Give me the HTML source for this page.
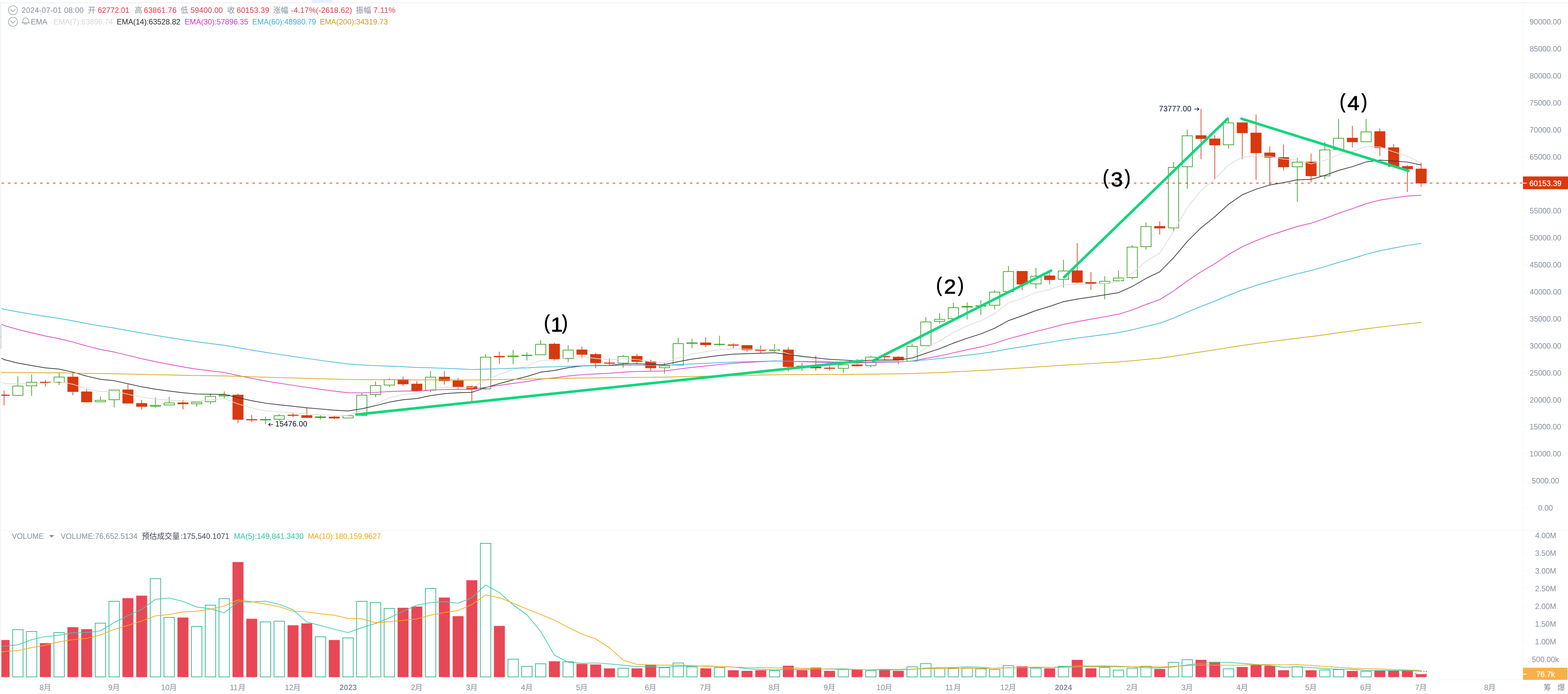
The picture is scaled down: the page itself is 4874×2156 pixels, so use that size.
<!DOCTYPE html>
<html><head><meta charset="utf-8"><title>chart</title>
<style>html,body{margin:0;padding:0;background:#fff;}body{width:4874px;height:2156px;overflow:hidden}svg{display:block}text{font-family:"Liberation Sans","Noto Sans CJK SC",sans-serif;white-space:pre}</style>
</head><body><svg width="4874" height="2156" viewBox="0 0 4874 2156"><rect x="0" y="0" width="4874" height="2156" fill="#fff"/><rect x="969.9" y="0" width="63.4" height="8" fill="#e3f0fb"/><rect x="0" y="7.7" width="4874" height="2" fill="#ececec"/><rect x="0" y="10" width="2.4" height="2102" fill="#f0f1f2"/><rect x="4734.5" y="14" width="1.5" height="2098" fill="#f3f4f5"/><rect x="0" y="1646.5" width="4874" height="1.6" fill="#f3f4f5"/><rect x="0" y="2111.3" width="4874" height="1.6" fill="#f3f4f5"/><path d="M0 1008.8H2.6Q5.6 1008.8 5.6 1011.8V1080.2Q5.6 1083.2 2.6 1083.2H0Z" fill="#dfe2e6"/><path d="M0 1044.3L1.3 1045.8L0 1047.3Z" fill="#555b66"/><rect x="4736" y="1576.8" width="11" height="1.6" fill="#f3f4f5"/><text x="4781" y="1586" font-size="23.6" fill="#8a929f">0.00</text><rect x="4736" y="1492.9" width="11" height="1.6" fill="#f3f4f5"/><text x="4761.3" y="1502.1" font-size="23.6" fill="#8a929f">5000.00</text><rect x="4736" y="1409" width="11" height="1.6" fill="#f3f4f5"/><text x="4754.3" y="1418.2" font-size="23.6" fill="#8a929f">10000.00</text><rect x="4736" y="1325.1" width="11" height="1.6" fill="#f3f4f5"/><text x="4754.3" y="1334.3" font-size="23.6" fill="#8a929f">15000.00</text><rect x="4736" y="1241.3" width="11" height="1.6" fill="#f3f4f5"/><text x="4754.7" y="1250.5" font-size="23.6" fill="#8a929f">20000.00</text><rect x="4736" y="1157.4" width="11" height="1.6" fill="#f3f4f5"/><text x="4754.7" y="1166.6" font-size="23.6" fill="#8a929f">25000.00</text><rect x="4736" y="1073.5" width="11" height="1.6" fill="#f3f4f5"/><text x="4754.8" y="1082.7" font-size="23.6" fill="#8a929f">30000.00</text><rect x="4736" y="989.6" width="11" height="1.6" fill="#f3f4f5"/><text x="4754.8" y="998.8" font-size="23.6" fill="#8a929f">35000.00</text><rect x="4736" y="905.7" width="11" height="1.6" fill="#f3f4f5"/><text x="4755" y="914.9" font-size="23.6" fill="#8a929f">40000.00</text><rect x="4736" y="821.8" width="11" height="1.6" fill="#f3f4f5"/><text x="4755" y="831" font-size="23.6" fill="#8a929f">45000.00</text><rect x="4736" y="738" width="11" height="1.6" fill="#f3f4f5"/><text x="4754.8" y="747.2" font-size="23.6" fill="#8a929f">50000.00</text><rect x="4736" y="654.1" width="11" height="1.6" fill="#f3f4f5"/><text x="4754.8" y="663.3" font-size="23.6" fill="#8a929f">55000.00</text><rect x="4736" y="570.2" width="11" height="1.6" fill="#f3f4f5"/><text x="4754.6" y="579.4" font-size="23.6" fill="#8a929f">60000.00</text><rect x="4736" y="486.3" width="11" height="1.6" fill="#f3f4f5"/><text x="4754.6" y="495.5" font-size="23.6" fill="#8a929f">65000.00</text><rect x="4736" y="402.4" width="11" height="1.6" fill="#f3f4f5"/><text x="4754.6" y="411.6" font-size="23.6" fill="#8a929f">70000.00</text><rect x="4736" y="318.5" width="11" height="1.6" fill="#f3f4f5"/><text x="4754.6" y="327.7" font-size="23.6" fill="#8a929f">75000.00</text><rect x="4736" y="234.7" width="11" height="1.6" fill="#f3f4f5"/><text x="4754.7" y="243.9" font-size="23.6" fill="#8a929f">80000.00</text><rect x="4736" y="150.8" width="11" height="1.6" fill="#f3f4f5"/><text x="4754.7" y="160" font-size="23.6" fill="#8a929f">85000.00</text><rect x="4736" y="66.9" width="11" height="1.6" fill="#f3f4f5"/><text x="4754.7" y="76.1" font-size="23.6" fill="#8a929f">90000.00</text><rect x="4736" y="1662.8" width="11" height="1.6" fill="#f3f4f5"/><text x="4771.9" y="1672" font-size="23.6" fill="#8a929f">4.00M</text><rect x="4736" y="1717.8" width="11" height="1.6" fill="#f3f4f5"/><text x="4771.7" y="1727" font-size="23.6" fill="#8a929f">3.50M</text><rect x="4736" y="1772.8" width="11" height="1.6" fill="#f3f4f5"/><text x="4771.7" y="1782" font-size="23.6" fill="#8a929f">3.00M</text><rect x="4736" y="1827.8" width="11" height="1.6" fill="#f3f4f5"/><text x="4771.6" y="1837" font-size="23.6" fill="#8a929f">2.50M</text><rect x="4736" y="1882.8" width="11" height="1.6" fill="#f3f4f5"/><text x="4771.6" y="1892" font-size="23.6" fill="#8a929f">2.00M</text><rect x="4736" y="1937.8" width="11" height="1.6" fill="#f3f4f5"/><text x="4771.3" y="1947" font-size="23.6" fill="#8a929f">1.50M</text><rect x="4736" y="1992.8" width="11" height="1.6" fill="#f3f4f5"/><text x="4771.3" y="2002" font-size="23.6" fill="#8a929f">1.00M</text><rect x="4736" y="2047.8" width="11" height="1.6" fill="#f3f4f5"/><text x="4761.5" y="2057" font-size="23.6" fill="#8a929f">500.00k</text><defs><clipPath id="cp"><rect x="4.2" y="10" width="4730" height="2102"/></clipPath></defs><g clip-path="url(#cp)"><rect x="11.7" y="1213.2" width="2" height="46.2" fill="#d8390f"/><rect x="-4.3" y="1226.1" width="34" height="3.4" fill="#d8390f"/><rect x="54.5" y="1169.2" width="2" height="29.1" fill="#2f9c17"/><rect x="39.5" y="1199.3" width="32" height="29" fill="none" stroke="#2f9c17" stroke-width="2"/><rect x="97.3" y="1163.2" width="2" height="23.3" fill="#2f9c17"/><rect x="97.3" y="1199.5" width="2" height="30" fill="#2f9c17"/><rect x="82.3" y="1187.5" width="32" height="11" fill="none" stroke="#2f9c17" stroke-width="2"/><rect x="140" y="1180.2" width="2" height="20.5" fill="#d8390f"/><rect x="124" y="1186.2" width="34" height="3.3" fill="#d8390f"/><rect x="182.8" y="1156.4" width="2" height="14" fill="#2f9c17"/><rect x="182.8" y="1189" width="2" height="7" fill="#2f9c17"/><rect x="167.8" y="1171.4" width="32" height="16.6" fill="none" stroke="#2f9c17" stroke-width="2"/><rect x="225.6" y="1155" width="2" height="72.9" fill="#d8390f"/><rect x="209.6" y="1170.4" width="34" height="47" fill="#d8390f"/><rect x="268.3" y="1209.3" width="2" height="40.3" fill="#d8390f"/><rect x="252.3" y="1216.3" width="34" height="33.3" fill="#d8390f"/><rect x="311.1" y="1231.9" width="2" height="10.7" fill="#2f9c17"/><rect x="296.1" y="1243.6" width="32" height="4.7" fill="none" stroke="#2f9c17" stroke-width="2"/><rect x="353.9" y="1242.8" width="2" height="22.9" fill="#2f9c17"/><rect x="338.9" y="1211.7" width="32" height="30.1" fill="none" stroke="#2f9c17" stroke-width="2"/><rect x="396.6" y="1194.1" width="2" height="59.4" fill="#d8390f"/><rect x="380.6" y="1210.2" width="34" height="43.3" fill="#d8390f"/><rect x="439.4" y="1242.4" width="2" height="30.2" fill="#d8390f"/><rect x="423.4" y="1252.4" width="34" height="11.2" fill="#d8390f"/><rect x="482.2" y="1234.9" width="2" height="23.5" fill="#2f9c17"/><rect x="482.2" y="1263.3" width="2" height="3" fill="#2f9c17"/><rect x="467.2" y="1259.4" width="32" height="2.9" fill="none" stroke="#2f9c17" stroke-width="2"/><rect x="524.9" y="1233.3" width="2" height="17.4" fill="#2f9c17"/><rect x="509.9" y="1251.7" width="32" height="6.4" fill="none" stroke="#2f9c17" stroke-width="2"/><rect x="567.7" y="1242.2" width="2" height="29.5" fill="#d8390f"/><rect x="551.7" y="1250.3" width="34" height="5.3" fill="#d8390f"/><rect x="610.4" y="1255.4" width="2" height="8.1" fill="#2f9c17"/><rect x="595.4" y="1249.4" width="32" height="5" fill="none" stroke="#2f9c17" stroke-width="2"/><rect x="653.2" y="1223" width="2" height="7.4" fill="#2f9c17"/><rect x="653.2" y="1249.1" width="2" height="6.3" fill="#2f9c17"/><rect x="638.2" y="1231.4" width="32" height="16.7" fill="none" stroke="#2f9c17" stroke-width="2"/><rect x="696" y="1216" width="2" height="10.3" fill="#2f9c17"/><rect x="696" y="1231.1" width="2" height="8.7" fill="#2f9c17"/><rect x="681" y="1227.3" width="32" height="2.8" fill="none" stroke="#2f9c17" stroke-width="2"/><rect x="738.7" y="1222.8" width="2" height="92" fill="#d8390f"/><rect x="722.7" y="1226.3" width="34" height="77.5" fill="#d8390f"/><rect x="781.5" y="1288.7" width="2" height="22.6" fill="#d8390f"/><rect x="765.5" y="1302.2" width="34" height="3.5" fill="#d8390f"/><rect x="824.3" y="1295.2" width="2" height="7" fill="#2f9c17"/><rect x="824.3" y="1305.7" width="2" height="11.4" fill="#2f9c17"/><rect x="808.3" y="1302.2" width="34" height="3.5" fill="#2f9c17"/><rect x="867" y="1286.4" width="2" height="4.1" fill="#2f9c17"/><rect x="867" y="1303.4" width="2" height="4.8" fill="#2f9c17"/><rect x="852" y="1291.5" width="32" height="10.9" fill="none" stroke="#2f9c17" stroke-width="2"/><rect x="909.8" y="1284" width="2" height="12.8" fill="#d8390f"/><rect x="893.8" y="1288.2" width="34" height="3.5" fill="#d8390f"/><rect x="952.6" y="1267.3" width="2" height="31.9" fill="#d8390f"/><rect x="936.6" y="1289.9" width="34" height="8.1" fill="#d8390f"/><rect x="995.3" y="1289.9" width="2" height="4.1" fill="#2f9c17"/><rect x="995.3" y="1298" width="2" height="5.4" fill="#2f9c17"/><rect x="979.3" y="1294" width="34" height="4" fill="#2f9c17"/><rect x="1038.1" y="1291.7" width="2" height="11" fill="#d8390f"/><rect x="1022.1" y="1294.5" width="34" height="5.4" fill="#d8390f"/><rect x="1080.9" y="1288.7" width="2" height="1.8" fill="#2f9c17"/><rect x="1065.9" y="1291.5" width="32" height="6.9" fill="none" stroke="#2f9c17" stroke-width="2"/><rect x="1123.6" y="1221.4" width="2" height="5.1" fill="#2f9c17"/><rect x="1108.6" y="1227.5" width="32" height="62.9" fill="none" stroke="#2f9c17" stroke-width="2"/><rect x="1166.4" y="1185.1" width="2" height="11.7" fill="#2f9c17"/><rect x="1166.4" y="1227" width="2" height="7" fill="#2f9c17"/><rect x="1151.4" y="1197.8" width="32" height="28.2" fill="none" stroke="#2f9c17" stroke-width="2"/><rect x="1209.2" y="1175.1" width="2" height="3" fill="#2f9c17"/><rect x="1209.2" y="1197.2" width="2" height="5.4" fill="#2f9c17"/><rect x="1194.2" y="1179.1" width="32" height="17.1" fill="none" stroke="#2f9c17" stroke-width="2"/><rect x="1251.9" y="1170" width="2" height="29.1" fill="#d8390f"/><rect x="1235.9" y="1178.1" width="34" height="15.6" fill="#d8390f"/><rect x="1294.7" y="1183.5" width="2" height="33.1" fill="#d8390f"/><rect x="1278.7" y="1192.1" width="34" height="22.1" fill="#d8390f"/><rect x="1337.4" y="1153.2" width="2" height="17.5" fill="#2f9c17"/><rect x="1337.4" y="1213.1" width="2" height="5.1" fill="#2f9c17"/><rect x="1322.4" y="1171.7" width="32" height="40.4" fill="none" stroke="#2f9c17" stroke-width="2"/><rect x="1380.2" y="1153" width="2" height="42.1" fill="#d8390f"/><rect x="1364.2" y="1170.4" width="34" height="13.1" fill="#d8390f"/><rect x="1423" y="1174.2" width="2" height="33.7" fill="#d8390f"/><rect x="1407" y="1182.1" width="34" height="19.8" fill="#d8390f"/><rect x="1465.7" y="1197.2" width="2" height="49.2" fill="#d8390f"/><rect x="1449.7" y="1200.2" width="34" height="9.4" fill="#d8390f"/><rect x="1508.5" y="1100.5" width="2" height="8.2" fill="#2f9c17"/><rect x="1508.5" y="1209.1" width="2" height="1.6" fill="#2f9c17"/><rect x="1493.5" y="1109.7" width="32" height="98.4" fill="none" stroke="#2f9c17" stroke-width="2"/><rect x="1551.3" y="1092.6" width="2" height="37.8" fill="#d8390f"/><rect x="1535.3" y="1105.9" width="34" height="4" fill="#d8390f"/><rect x="1594" y="1087.3" width="2" height="17.4" fill="#2f9c17"/><rect x="1594" y="1109.4" width="2" height="22.1" fill="#2f9c17"/><rect x="1579" y="1105.7" width="32" height="2.7" fill="none" stroke="#2f9c17" stroke-width="2"/><rect x="1636.8" y="1094.3" width="2" height="8.1" fill="#2f9c17"/><rect x="1636.8" y="1105.4" width="2" height="14.5" fill="#2f9c17"/><rect x="1620.8" y="1102.4" width="34" height="3" fill="#2f9c17"/><rect x="1679.6" y="1057" width="2" height="11.6" fill="#2f9c17"/><rect x="1664.6" y="1069.6" width="32" height="32.6" fill="none" stroke="#2f9c17" stroke-width="2"/><rect x="1722.3" y="1065" width="2" height="56.6" fill="#d8390f"/><rect x="1706.3" y="1068" width="34" height="47.8" fill="#d8390f"/><rect x="1765.1" y="1072.7" width="2" height="14" fill="#2f9c17"/><rect x="1765.1" y="1115.1" width="2" height="9.5" fill="#2f9c17"/><rect x="1750.1" y="1087.7" width="32" height="26.4" fill="none" stroke="#2f9c17" stroke-width="2"/><rect x="1807.9" y="1076.7" width="2" height="35.6" fill="#d8390f"/><rect x="1791.9" y="1086" width="34" height="15.8" fill="#d8390f"/><rect x="1850.6" y="1096.5" width="2" height="47.2" fill="#d8390f"/><rect x="1834.6" y="1100.2" width="34" height="27.7" fill="#d8390f"/><rect x="1893.4" y="1112.8" width="2" height="21.2" fill="#d8390f"/><rect x="1877.4" y="1126.3" width="34" height="3.5" fill="#d8390f"/><rect x="1936.1" y="1102.5" width="2" height="4" fill="#2f9c17"/><rect x="1936.1" y="1129.1" width="2" height="13.5" fill="#2f9c17"/><rect x="1921.1" y="1107.5" width="32" height="20.6" fill="none" stroke="#2f9c17" stroke-width="2"/><rect x="1978.9" y="1099" width="2" height="32.6" fill="#d8390f"/><rect x="1962.9" y="1106" width="34" height="17.9" fill="#d8390f"/><rect x="2021.7" y="1117" width="2" height="34.4" fill="#d8390f"/><rect x="2005.7" y="1122.1" width="34" height="21.6" fill="#d8390f"/><rect x="2064.4" y="1127.9" width="2" height="7.7" fill="#2f9c17"/><rect x="2064.4" y="1143.3" width="2" height="17.4" fill="#2f9c17"/><rect x="2049.4" y="1136.6" width="32" height="5.7" fill="none" stroke="#2f9c17" stroke-width="2"/><rect x="2107.2" y="1049.4" width="2" height="17" fill="#2f9c17"/><rect x="2092.2" y="1067.4" width="32" height="66.7" fill="none" stroke="#2f9c17" stroke-width="2"/><rect x="2150" y="1052.2" width="2" height="11.9" fill="#2f9c17"/><rect x="2150" y="1067.6" width="2" height="13.9" fill="#2f9c17"/><rect x="2134" y="1064.1" width="34" height="3.5" fill="#2f9c17"/><rect x="2192.7" y="1048.2" width="2" height="30.3" fill="#d8390f"/><rect x="2176.7" y="1064.1" width="34" height="7.9" fill="#d8390f"/><rect x="2235.5" y="1043.1" width="2" height="25.3" fill="#2f9c17"/><rect x="2235.5" y="1071.4" width="2" height="3.6" fill="#2f9c17"/><rect x="2219.5" y="1068.4" width="34" height="3" fill="#2f9c17"/><rect x="2278.3" y="1066" width="2" height="15.8" fill="#d8390f"/><rect x="2262.3" y="1070.2" width="34" height="3.5" fill="#d8390f"/><rect x="2321" y="1072.3" width="2" height="20" fill="#d8390f"/><rect x="2305" y="1072.3" width="34" height="15.3" fill="#d8390f"/><rect x="2363.8" y="1073" width="2" height="23.3" fill="#d8390f"/><rect x="2347.8" y="1085.8" width="34" height="3.9" fill="#d8390f"/><rect x="2406.6" y="1069" width="2" height="16.8" fill="#2f9c17"/><rect x="2406.6" y="1089.7" width="2" height="4.2" fill="#2f9c17"/><rect x="2390.6" y="1085.8" width="34" height="3.9" fill="#2f9c17"/><rect x="2449.3" y="1078.8" width="2" height="75.2" fill="#d8390f"/><rect x="2433.3" y="1086.3" width="34" height="53.5" fill="#d8390f"/><rect x="2492.1" y="1127" width="2" height="24.7" fill="#d8390f"/><rect x="2476.1" y="1136.3" width="34" height="4.2" fill="#d8390f"/><rect x="2534.9" y="1104.9" width="2" height="46.8" fill="#d8390f"/><rect x="2518.9" y="1139.4" width="34" height="4.6" fill="#d8390f"/><rect x="2577.6" y="1135.9" width="2" height="15.1" fill="#d8390f"/><rect x="2561.6" y="1142.2" width="34" height="3.5" fill="#d8390f"/><rect x="2620.4" y="1145.2" width="2" height="13.3" fill="#2f9c17"/><rect x="2605.4" y="1133.4" width="32" height="10.8" fill="none" stroke="#2f9c17" stroke-width="2"/><rect x="2663.1" y="1115.6" width="2" height="22.6" fill="#d8390f"/><rect x="2647.1" y="1132.4" width="34" height="5.3" fill="#d8390f"/><rect x="2705.9" y="1106.3" width="2" height="2.1" fill="#2f9c17"/><rect x="2705.9" y="1137" width="2" height="3.5" fill="#2f9c17"/><rect x="2690.9" y="1109.4" width="32" height="26.6" fill="none" stroke="#2f9c17" stroke-width="2"/><rect x="2748.7" y="1097.4" width="2" height="21.7" fill="#d8390f"/><rect x="2732.7" y="1106.3" width="34" height="3.5" fill="#d8390f"/><rect x="2791.4" y="1107.2" width="2" height="24" fill="#d8390f"/><rect x="2775.4" y="1108.4" width="34" height="11.2" fill="#d8390f"/><rect x="2834.2" y="1067.3" width="2" height="7.6" fill="#2f9c17"/><rect x="2819.2" y="1075.9" width="32" height="46" fill="none" stroke="#2f9c17" stroke-width="2"/><rect x="2877" y="985.2" width="2" height="14" fill="#2f9c17"/><rect x="2862" y="1000.2" width="32" height="73.7" fill="none" stroke="#2f9c17" stroke-width="2"/><rect x="2919.7" y="973.4" width="2" height="17.7" fill="#2f9c17"/><rect x="2919.7" y="999.2" width="2" height="6.2" fill="#2f9c17"/><rect x="2904.7" y="992.1" width="32" height="6.1" fill="none" stroke="#2f9c17" stroke-width="2"/><rect x="2962.5" y="940.2" width="2" height="14.8" fill="#2f9c17"/><rect x="2947.5" y="956" width="32" height="34.1" fill="none" stroke="#2f9c17" stroke-width="2"/><rect x="3005.3" y="939.7" width="2" height="11.1" fill="#2f9c17"/><rect x="3005.3" y="955" width="2" height="37.6" fill="#2f9c17"/><rect x="2990.3" y="951.8" width="32" height="2.2" fill="none" stroke="#2f9c17" stroke-width="2"/><rect x="3048" y="932.4" width="2" height="16.4" fill="#2f9c17"/><rect x="3048" y="951.8" width="2" height="27" fill="#2f9c17"/><rect x="3032" y="948.8" width="34" height="3" fill="#2f9c17"/><rect x="3090.8" y="901.6" width="2" height="4.9" fill="#2f9c17"/><rect x="3090.8" y="949.2" width="2" height="11.4" fill="#2f9c17"/><rect x="3075.8" y="907.5" width="32" height="40.7" fill="none" stroke="#2f9c17" stroke-width="2"/><rect x="3133.6" y="826.7" width="2" height="15.8" fill="#2f9c17"/><rect x="3118.6" y="843.5" width="32" height="62.5" fill="none" stroke="#2f9c17" stroke-width="2"/><rect x="3176.3" y="842" width="2" height="59.9" fill="#d8390f"/><rect x="3160.3" y="842" width="34" height="41.7" fill="#d8390f"/><rect x="3219.1" y="832" width="2" height="24.9" fill="#2f9c17"/><rect x="3219.1" y="882.8" width="2" height="13.7" fill="#2f9c17"/><rect x="3204.1" y="857.9" width="32" height="23.9" fill="none" stroke="#2f9c17" stroke-width="2"/><rect x="3261.8" y="846" width="2" height="37.7" fill="#d8390f"/><rect x="3245.8" y="856" width="34" height="13.7" fill="#d8390f"/><rect x="3304.6" y="806.9" width="2" height="34" fill="#2f9c17"/><rect x="3304.6" y="868.8" width="2" height="24.2" fill="#2f9c17"/><rect x="3289.6" y="841.9" width="32" height="25.9" fill="none" stroke="#2f9c17" stroke-width="2"/><rect x="3347.4" y="755.1" width="2" height="125.4" fill="#d8390f"/><rect x="3331.4" y="840.2" width="34" height="37.7" fill="#d8390f"/><rect x="3390.1" y="845.5" width="2" height="55.2" fill="#d8390f"/><rect x="3374.1" y="876.3" width="34" height="5.3" fill="#d8390f"/><rect x="3432.9" y="858.1" width="2" height="14.7" fill="#2f9c17"/><rect x="3432.9" y="880.9" width="2" height="48.9" fill="#2f9c17"/><rect x="3417.9" y="873.8" width="32" height="6.1" fill="none" stroke="#2f9c17" stroke-width="2"/><rect x="3475.7" y="840.2" width="2" height="22.6" fill="#2f9c17"/><rect x="3460.7" y="863.8" width="32" height="8.4" fill="none" stroke="#2f9c17" stroke-width="2"/><rect x="3518.4" y="761.6" width="2" height="5" fill="#2f9c17"/><rect x="3518.4" y="863" width="2" height="4.7" fill="#2f9c17"/><rect x="3503.4" y="767.6" width="32" height="94.4" fill="none" stroke="#2f9c17" stroke-width="2"/><rect x="3561.2" y="691.2" width="2" height="11.7" fill="#2f9c17"/><rect x="3561.2" y="767.1" width="2" height="8.5" fill="#2f9c17"/><rect x="3546.2" y="703.9" width="32" height="62.2" fill="none" stroke="#2f9c17" stroke-width="2"/><rect x="3604" y="688.2" width="2" height="40.3" fill="#d8390f"/><rect x="3588" y="702.4" width="34" height="7" fill="#d8390f"/><rect x="3646.7" y="503.1" width="2" height="15.9" fill="#2f9c17"/><rect x="3646.7" y="709.1" width="2" height="11.7" fill="#2f9c17"/><rect x="3631.7" y="520" width="32" height="188.1" fill="none" stroke="#2f9c17" stroke-width="2"/><rect x="3689.5" y="402.5" width="2" height="18.4" fill="#2f9c17"/><rect x="3689.5" y="519" width="2" height="67.4" fill="#2f9c17"/><rect x="3674.5" y="421.9" width="32" height="96.1" fill="none" stroke="#2f9c17" stroke-width="2"/><rect x="3732.3" y="338.5" width="2" height="155.8" fill="#d8390f"/><rect x="3716.3" y="420.4" width="34" height="11" fill="#d8390f"/><rect x="3775" y="420" width="2" height="136.1" fill="#d8390f"/><rect x="3759" y="430.5" width="34" height="20.9" fill="#d8390f"/><rect x="3817.8" y="369.2" width="2" height="11.6" fill="#2f9c17"/><rect x="3817.8" y="450.7" width="2" height="11.7" fill="#2f9c17"/><rect x="3802.8" y="381.8" width="32" height="67.9" fill="none" stroke="#2f9c17" stroke-width="2"/><rect x="3860.5" y="380.4" width="2" height="114.1" fill="#d8390f"/><rect x="3844.5" y="380.4" width="34" height="33.1" fill="#d8390f"/><rect x="3903.3" y="355.2" width="2" height="203.2" fill="#d8390f"/><rect x="3887.3" y="412.3" width="34" height="63.4" fill="#d8390f"/><rect x="3946.1" y="454.9" width="2" height="121" fill="#d8390f"/><rect x="3930.1" y="474" width="34" height="15.6" fill="#d8390f"/><rect x="3988.8" y="448.9" width="2" height="80.6" fill="#d8390f"/><rect x="3972.8" y="488.4" width="34" height="31" fill="#d8390f"/><rect x="4031.6" y="490.4" width="2" height="12.4" fill="#2f9c17"/><rect x="4031.6" y="519.2" width="2" height="107.9" fill="#2f9c17"/><rect x="4016.6" y="503.8" width="32" height="14.4" fill="none" stroke="#2f9c17" stroke-width="2"/><rect x="4074.4" y="477.6" width="2" height="88.9" fill="#d8390f"/><rect x="4058.4" y="502.3" width="34" height="44.9" fill="#d8390f"/><rect x="4117.1" y="440.9" width="2" height="23.8" fill="#2f9c17"/><rect x="4117.1" y="547.4" width="2" height="9.4" fill="#2f9c17"/><rect x="4102.1" y="465.7" width="32" height="80.7" fill="none" stroke="#2f9c17" stroke-width="2"/><rect x="4159.9" y="369.2" width="2" height="59.4" fill="#2f9c17"/><rect x="4159.9" y="465.4" width="2" height="2.3" fill="#2f9c17"/><rect x="4144.9" y="429.6" width="32" height="34.8" fill="none" stroke="#2f9c17" stroke-width="2"/><rect x="4202.7" y="390.8" width="2" height="67.1" fill="#d8390f"/><rect x="4186.7" y="428.1" width="34" height="13.5" fill="#d8390f"/><rect x="4245.4" y="368.7" width="2" height="40.1" fill="#2f9c17"/><rect x="4230.4" y="409.8" width="32" height="30.6" fill="none" stroke="#2f9c17" stroke-width="2"/><rect x="4288.2" y="399" width="2" height="85.7" fill="#d8390f"/><rect x="4272.2" y="407.8" width="34" height="51.8" fill="#d8390f"/><rect x="4331" y="447.4" width="2" height="70.4" fill="#d8390f"/><rect x="4315" y="457.9" width="34" height="59.9" fill="#d8390f"/><rect x="4373.7" y="513.1" width="2" height="83.1" fill="#d8390f"/><rect x="4357.7" y="516.1" width="34" height="9.6" fill="#d8390f"/><rect x="4416.5" y="505" width="2" height="74.8" fill="#d8390f"/><rect x="4400.5" y="524" width="34" height="45.8" fill="#d8390f"/><path d="M4.2 1187.6L12.7 1191.1L55.5 1192.9L98.3 1191.3L141 1190.8L183.8 1185.7L226.6 1193.7L269.3 1207.6L312.1 1216.4L354.9 1215L397.6 1224.6L440.4 1234.3L483.2 1240.4L525.9 1242.9L568.7 1246.1L611.4 1246.7L654.2 1242.6L697 1238.5L739.7 1254.8L782.5 1267.6L825.3 1276.2L868 1279.8L910.8 1282.8L953.6 1286.6L996.3 1288.4L1039.1 1291.3L1081.9 1291.1L1124.6 1274.9L1167.4 1255.4L1210.2 1236.1L1252.9 1225.5L1295.7 1222.7L1338.4 1209.7L1381.2 1203.1L1424 1202.8L1466.7 1204.5L1509.5 1180.6L1552.3 1162.9L1595 1148.3L1637.8 1136.9L1680.6 1119.8L1723.3 1118.8L1766.1 1110.8L1808.9 1108.5L1851.6 1113.4L1894.4 1117.5L1937.1 1114.7L1979.9 1117L2022.7 1123.7L2065.4 1126.7L2108.2 1111.6L2151 1099.7L2193.7 1092.8L2236.5 1086.7L2279.3 1083.4L2322 1084.5L2364.8 1085.8L2407.6 1085.8L2450.3 1099.3L2493.1 1109.6L2535.9 1118.2L2578.6 1125.1L2621.4 1126.9L2664.1 1129.6L2706.9 1124.3L2749.7 1120.7L2792.4 1120.4L2835.2 1109L2878 1081.6L2920.7 1059L2963.5 1033L3006.3 1012.4L3049 996.5L3091.8 974L3134.6 941.1L3177.3 926.8L3220.1 909.3L3262.8 899.4L3305.6 884.8L3348.4 883.1L3391.1 882.7L3433.9 880.2L3476.7 875.9L3519.4 848.5L3562.2 812.1L3605 786.5L3647.7 719.6L3690.5 644.9L3733.3 591.5L3776 556.5L3818.8 512.6L3861.5 487.8L3904.3 484.8L3947.1 486L3989.8 494.3L4032.6 496.5L4075.4 509.1L4118.1 498L4160.9 480.7L4203.7 470.9L4246.4 455.4L4289.2 456.4L4332 471.8L4374.7 485.3L4417.5 506.4" fill="none" stroke="#dcdcdc" stroke-width="2.2" stroke-linejoin="round"/><path d="M4.2 1112.4L12.7 1117.1L55.5 1127.9L98.3 1135.7L141 1142.9L183.8 1146.6L226.6 1156L269.3 1168.5L312.1 1178.4L354.9 1182.7L397.6 1192.1L440.4 1201.7L483.2 1209.2L525.9 1214.8L568.7 1220.2L611.4 1224L654.2 1224.8L697 1225L739.7 1235.5L782.5 1244.9L825.3 1252.5L868 1257.6L910.8 1262.1L953.6 1266.9L996.3 1270.5L1039.1 1274.4L1081.9 1276.6L1124.6 1269.9L1167.4 1260.2L1210.2 1249.2L1252.9 1241.8L1295.7 1238.1L1338.4 1229.1L1381.2 1223.1L1424 1220.2L1466.7 1218.8L1509.5 1204.1L1552.3 1191.6L1595 1180L1637.8 1169.6L1680.6 1156.2L1723.3 1150.8L1766.1 1142.2L1808.9 1136.9L1851.6 1135.7L1894.4 1134.9L1937.1 1131.1L1979.9 1130.1L2022.7 1131.9L2065.4 1132.4L2108.2 1123.6L2151 1115.7L2193.7 1109.9L2236.5 1104.3L2279.3 1100.3L2322 1098.6L2364.8 1097.4L2407.6 1095.8L2450.3 1101.7L2493.1 1106.9L2535.9 1111.8L2578.6 1116.3L2621.4 1118.5L2664.1 1121L2706.9 1119.4L2749.7 1118.1L2792.4 1118.3L2835.2 1112.5L2878 1097.4L2920.7 1083.2L2963.5 1066.1L3006.3 1050.7L3049 1037.2L3091.8 1019.7L3134.6 996.1L3177.3 981.1L3220.1 964.6L3262.8 951.9L3305.6 937.1L3348.4 929.2L3391.1 922.9L3433.9 916.2L3476.7 909.1L3519.4 890.1L3562.2 865.1L3605 844.4L3647.7 801L3690.5 750.3L3733.3 707.8L3776 673.6L3818.8 634.6L3861.5 605.1L3904.3 587.8L3947.1 574.7L3989.8 567.4L4032.6 558.7L4075.4 557.2L4118.1 544.9L4160.9 529.4L4203.7 517.7L4246.4 503.2L4289.2 497.3L4332 500.1L4374.7 503.5L4417.5 512.3" fill="none" stroke="#3a3a3a" stroke-width="2.2" stroke-linejoin="round"/><path d="M4.2 1007.2L12.7 1011.3L55.5 1023.4L98.3 1033.9L141 1043.9L183.8 1052.1L226.6 1062.8L269.3 1074.8L312.1 1085.6L354.9 1093.7L397.6 1104L440.4 1114.3L483.2 1123.6L525.9 1131.8L568.7 1139.8L611.4 1146.8L654.2 1152.2L697 1157L739.7 1166.4L782.5 1175.4L825.3 1183.6L868 1190.5L910.8 1197L953.6 1203.5L996.3 1209.4L1039.1 1215.2L1081.9 1220.1L1124.6 1220.5L1167.4 1219L1210.2 1216.3L1252.9 1214.9L1295.7 1214.8L1338.4 1212L1381.2 1210.1L1424 1209.6L1466.7 1209.6L1509.5 1203.1L1552.3 1197.1L1595 1191.1L1637.8 1185.4L1680.6 1177.9L1723.3 1173.9L1766.1 1168.2L1808.9 1164L1851.6 1161.6L1894.4 1159.6L1937.1 1156.1L1979.9 1154.1L2022.7 1153.4L2065.4 1152.3L2108.2 1146.7L2151 1141.4L2193.7 1136.9L2236.5 1132.5L2279.3 1128.7L2322 1126L2364.8 1123.7L2407.6 1121.3L2450.3 1122.4L2493.1 1123.6L2535.9 1124.9L2578.6 1126.3L2621.4 1126.7L2664.1 1127.4L2706.9 1126.2L2749.7 1125.1L2792.4 1124.7L2835.2 1121.5L2878 1113.6L2920.7 1105.7L2963.5 1096L3006.3 1086.6L3049 1077.7L3091.8 1066.7L3134.6 1052.2L3177.3 1041.4L3220.1 1029.5L3262.8 1019.2L3305.6 1007.7L3348.4 999.3L3391.1 991.7L3433.9 984L3476.7 976.2L3519.4 962.7L3562.2 945.9L3605 930.7L3647.7 904.1L3690.5 872.9L3733.3 844.4L3776 819.1L3818.8 790.8L3861.5 766.5L3904.3 747.7L3947.1 731.1L3989.8 717.4L4032.6 703.6L4075.4 693.5L4118.1 678.7L4160.9 662.6L4203.7 648.3L4246.4 632.9L4289.2 621.7L4332 615L4374.7 609.2L4417.5 606.7" fill="none" stroke="#dc44c8" stroke-width="2.2" stroke-linejoin="round"/><path d="M4.2 958.2L12.7 961L55.5 968.8L98.3 975.9L141 982.9L183.8 989.1L226.6 996.6L269.3 1004.9L312.1 1012.6L354.9 1019.1L397.6 1026.8L440.4 1034.6L483.2 1041.9L525.9 1048.8L568.7 1055.6L611.4 1061.9L654.2 1067.4L697 1072.6L739.7 1080.2L782.5 1087.6L825.3 1094.6L868 1101L910.8 1107.3L953.6 1113.5L996.3 1119.5L1039.1 1125.4L1081.9 1130.8L1124.6 1133.9L1167.4 1136L1210.2 1137.4L1252.9 1139.2L1295.7 1141.7L1338.4 1142.6L1381.2 1144L1424 1145.9L1466.7 1148L1509.5 1146.7L1552.3 1145.5L1595 1144.1L1637.8 1142.8L1680.6 1140.3L1723.3 1139.5L1766.1 1137.8L1808.9 1136.6L1851.6 1136.3L1894.4 1136.1L1937.1 1135.1L1979.9 1134.8L2022.7 1135.1L2065.4 1135.1L2108.2 1132.8L2151 1130.6L2193.7 1128.7L2236.5 1126.7L2279.3 1124.9L2322 1123.7L2364.8 1122.6L2407.6 1121.4L2450.3 1122L2493.1 1122.6L2535.9 1123.3L2578.6 1124L2621.4 1124.3L2664.1 1124.8L2706.9 1124.2L2749.7 1123.7L2792.4 1123.6L2835.2 1122L2878 1118L2920.7 1113.8L2963.5 1108.6L3006.3 1103.4L3049 1098.4L3091.8 1092.1L3134.6 1083.9L3177.3 1077.3L3220.1 1070.1L3262.8 1063.5L3305.6 1056.2L3348.4 1050.4L3391.1 1044.9L3433.9 1039.2L3476.7 1033.4L3519.4 1024.7L3562.2 1014.1L3605 1004.1L3647.7 988.2L3690.5 969.6L3733.3 952L3776 935.6L3818.8 917.4L3861.5 900.9L3904.3 886.9L3947.1 873.9L3989.8 862.3L4032.6 850.5L4075.4 840.5L4118.1 828.2L4160.9 815.1L4203.7 802.9L4246.4 790L4289.2 779.1L4332 770.6L4374.7 762.5L4417.5 756.2" fill="none" stroke="#41b8e0" stroke-width="2.2" stroke-linejoin="round"/><path d="M4.2 1156.9L12.7 1157.2L55.5 1157.6L98.3 1157.9L141 1158.2L183.8 1158.3L226.6 1158.9L269.3 1159.8L312.1 1160.6L354.9 1161.1L397.6 1162.1L440.4 1163.1L483.2 1164L525.9 1164.9L568.7 1165.8L611.4 1166.6L654.2 1167.2L697 1167.8L739.7 1169.2L782.5 1170.5L825.3 1171.9L868 1173L910.8 1174.2L953.6 1175.4L996.3 1176.6L1039.1 1177.9L1081.9 1179L1124.6 1179.4L1167.4 1179.6L1210.2 1179.6L1252.9 1179.7L1295.7 1180.1L1338.4 1180L1381.2 1180L1424 1180.2L1466.7 1180.5L1509.5 1179.8L1552.3 1179.1L1595 1178.4L1637.8 1177.6L1680.6 1176.5L1723.3 1175.9L1766.1 1175.1L1808.9 1174.3L1851.6 1173.9L1894.4 1173.4L1937.1 1172.8L1979.9 1172.3L2022.7 1172L2065.4 1171.6L2108.2 1170.6L2151 1169.5L2193.7 1168.5L2236.5 1167.6L2279.3 1166.6L2322 1165.8L2364.8 1165.1L2407.6 1164.3L2450.3 1164L2493.1 1163.8L2535.9 1163.6L2578.6 1163.4L2621.4 1163.1L2664.1 1162.9L2706.9 1162.3L2749.7 1161.8L2792.4 1161.4L2835.2 1160.5L2878 1158.9L2920.7 1157.3L2963.5 1155.2L3006.3 1153.2L3049 1151.2L3091.8 1148.7L3134.6 1145.7L3177.3 1143.1L3220.1 1140.2L3262.8 1137.5L3305.6 1134.6L3348.4 1132L3391.1 1129.5L3433.9 1127L3476.7 1124.4L3519.4 1120.8L3562.2 1116.6L3605 1112.6L3647.7 1106.7L3690.5 1099.9L3733.3 1093.2L3776 1086.8L3818.8 1079.8L3861.5 1073.2L3904.3 1067.2L3947.1 1061.5L3989.8 1056.1L4032.6 1050.6L4075.4 1045.6L4118.1 1039.8L4160.9 1033.7L4203.7 1027.8L4246.4 1021.7L4289.2 1016.1L4332 1011.1L4374.7 1006.3L4417.5 1001.9" fill="none" stroke="#d4a81a" stroke-width="2.2" stroke-linejoin="round"/><line x1="4.5" y1="568.9" x2="4734" y2="568.9" stroke="#d8390f" stroke-width="2.2" stroke-dasharray="8 12"/><rect x="-4.3" y="1988.3" width="34" height="115.3" fill="#e84855"/><rect x="39.3" y="1956.1" width="32.4" height="146.7" fill="none" stroke="#15ad7f" stroke-width="1.9"/><rect x="82.1" y="1962" width="32.4" height="140.8" fill="none" stroke="#15ad7f" stroke-width="1.9"/><rect x="124" y="1997.9" width="34" height="105.7" fill="#e84855"/><rect x="167.6" y="1965" width="32.4" height="137.8" fill="none" stroke="#15ad7f" stroke-width="1.9"/><rect x="209.6" y="1948.3" width="34" height="155.3" fill="#e84855"/><rect x="252.3" y="1954.5" width="34" height="149.1" fill="#e84855"/><rect x="295.9" y="1935.9" width="32.4" height="166.9" fill="none" stroke="#15ad7f" stroke-width="1.9"/><rect x="338.7" y="1868" width="32.4" height="234.8" fill="none" stroke="#15ad7f" stroke-width="1.9"/><rect x="380.6" y="1858.3" width="34" height="245.3" fill="#e84855"/><rect x="423.4" y="1850.5" width="34" height="253.1" fill="#e84855"/><rect x="467" y="1797.7" width="32.4" height="305.1" fill="none" stroke="#15ad7f" stroke-width="1.9"/><rect x="509.7" y="1918.1" width="32.4" height="184.7" fill="none" stroke="#15ad7f" stroke-width="1.9"/><rect x="551.7" y="1918.4" width="34" height="185.2" fill="#e84855"/><rect x="595.2" y="1946" width="32.4" height="156.8" fill="none" stroke="#15ad7f" stroke-width="1.9"/><rect x="638" y="1880" width="32.4" height="222.8" fill="none" stroke="#15ad7f" stroke-width="1.9"/><rect x="680.8" y="1859.9" width="32.4" height="242.9" fill="none" stroke="#15ad7f" stroke-width="1.9"/><rect x="722.7" y="1746.1" width="34" height="357.5" fill="#e84855"/><rect x="765.5" y="1922.3" width="34" height="181.3" fill="#e84855"/><rect x="809.1" y="1932.1" width="32.4" height="170.7" fill="none" stroke="#15ad7f" stroke-width="1.9"/><rect x="851.8" y="1929.7" width="32.4" height="173.1" fill="none" stroke="#15ad7f" stroke-width="1.9"/><rect x="893.8" y="1942.5" width="34" height="161.1" fill="#e84855"/><rect x="936.6" y="1936.7" width="34" height="166.9" fill="#e84855"/><rect x="980.1" y="1978.3" width="32.4" height="124.5" fill="none" stroke="#15ad7f" stroke-width="1.9"/><rect x="1022.1" y="1988.3" width="34" height="115.3" fill="#e84855"/><rect x="1065.7" y="1981.7" width="32.4" height="121.1" fill="none" stroke="#15ad7f" stroke-width="1.9"/><rect x="1108.4" y="1868" width="32.4" height="234.8" fill="none" stroke="#15ad7f" stroke-width="1.9"/><rect x="1151.2" y="1871.9" width="32.4" height="230.9" fill="none" stroke="#15ad7f" stroke-width="1.9"/><rect x="1194" y="1890.1" width="32.4" height="212.7" fill="none" stroke="#15ad7f" stroke-width="1.9"/><rect x="1235.9" y="1888.2" width="34" height="215.4" fill="#e84855"/><rect x="1278.7" y="1884.3" width="34" height="219.3" fill="#e84855"/><rect x="1322.2" y="1828" width="32.4" height="274.8" fill="none" stroke="#15ad7f" stroke-width="1.9"/><rect x="1364.2" y="1856.3" width="34" height="247.3" fill="#e84855"/><rect x="1407" y="1914.2" width="34" height="189.4" fill="#e84855"/><rect x="1449.7" y="1802.4" width="34" height="301.2" fill="#e84855"/><rect x="1493.3" y="1687.9" width="32.4" height="414.9" fill="none" stroke="#15ad7f" stroke-width="1.9"/><rect x="1535.3" y="1944.5" width="34" height="159.1" fill="#e84855"/><rect x="1578.8" y="2047.7" width="32.4" height="55.1" fill="none" stroke="#15ad7f" stroke-width="1.9"/><rect x="1621.6" y="2069.9" width="32.4" height="32.9" fill="none" stroke="#15ad7f" stroke-width="1.9"/><rect x="1664.4" y="2062.1" width="32.4" height="40.7" fill="none" stroke="#15ad7f" stroke-width="1.9"/><rect x="1706.3" y="2054.3" width="34" height="49.3" fill="#e84855"/><rect x="1749.9" y="2055.9" width="32.4" height="46.9" fill="none" stroke="#15ad7f" stroke-width="1.9"/><rect x="1791.9" y="2062.5" width="34" height="41.1" fill="#e84855"/><rect x="1834.6" y="2064.4" width="34" height="39.2" fill="#e84855"/><rect x="1877.4" y="2076.4" width="34" height="27.2" fill="#e84855"/><rect x="1920.9" y="2075.9" width="32.4" height="26.9" fill="none" stroke="#15ad7f" stroke-width="1.9"/><rect x="1962.9" y="2076.3" width="34" height="27.3" fill="#e84855"/><rect x="2005.7" y="2064.3" width="34" height="39.3" fill="#e84855"/><rect x="2049.2" y="2074.4" width="32.4" height="28.4" fill="none" stroke="#15ad7f" stroke-width="1.9"/><rect x="2092" y="2059.7" width="32.4" height="43.1" fill="none" stroke="#15ad7f" stroke-width="1.9"/><rect x="2134.8" y="2071.7" width="32.4" height="31.1" fill="none" stroke="#15ad7f" stroke-width="1.9"/><rect x="2176.7" y="2076.3" width="34" height="27.3" fill="#e84855"/><rect x="2220.3" y="2074" width="32.4" height="28.8" fill="none" stroke="#15ad7f" stroke-width="1.9"/><rect x="2262.3" y="2082.2" width="34" height="21.4" fill="#e84855"/><rect x="2305" y="2084.1" width="34" height="19.5" fill="#e84855"/><rect x="2347.8" y="2082.2" width="34" height="21.4" fill="#e84855"/><rect x="2391.4" y="2083.7" width="32.4" height="19.1" fill="none" stroke="#15ad7f" stroke-width="1.9"/><rect x="2433.3" y="2068.2" width="34" height="35.4" fill="#e84855"/><rect x="2476.1" y="2081.8" width="34" height="21.8" fill="#e84855"/><rect x="2518.9" y="2074" width="34" height="29.6" fill="#e84855"/><rect x="2561.6" y="2084.1" width="34" height="19.5" fill="#e84855"/><rect x="2605.2" y="2080.2" width="32.4" height="22.6" fill="none" stroke="#15ad7f" stroke-width="1.9"/><rect x="2647.1" y="2081" width="34" height="22.6" fill="#e84855"/><rect x="2690.7" y="2083.7" width="32.4" height="19.1" fill="none" stroke="#15ad7f" stroke-width="1.9"/><rect x="2732.7" y="2078.3" width="34" height="25.3" fill="#e84855"/><rect x="2775.4" y="2084.1" width="34" height="19.5" fill="#e84855"/><rect x="2819" y="2071.7" width="32.4" height="31.1" fill="none" stroke="#15ad7f" stroke-width="1.9"/><rect x="2861.8" y="2061.6" width="32.4" height="41.2" fill="none" stroke="#15ad7f" stroke-width="1.9"/><rect x="2904.5" y="2077.1" width="32.4" height="25.7" fill="none" stroke="#15ad7f" stroke-width="1.9"/><rect x="2947.3" y="2076" width="32.4" height="26.8" fill="none" stroke="#15ad7f" stroke-width="1.9"/><rect x="2990.1" y="2075.6" width="32.4" height="27.2" fill="none" stroke="#15ad7f" stroke-width="1.9"/><rect x="3032.8" y="2077.9" width="32.4" height="24.9" fill="none" stroke="#15ad7f" stroke-width="1.9"/><rect x="3075.6" y="2079.9" width="32.4" height="22.9" fill="none" stroke="#15ad7f" stroke-width="1.9"/><rect x="3118.4" y="2067.8" width="32.4" height="35" fill="none" stroke="#15ad7f" stroke-width="1.9"/><rect x="3160.3" y="2070.1" width="34" height="33.5" fill="#e84855"/><rect x="3203.9" y="2075.6" width="32.4" height="27.2" fill="none" stroke="#15ad7f" stroke-width="1.9"/><rect x="3245.8" y="2076.3" width="34" height="27.3" fill="#e84855"/><rect x="3289.4" y="2069.8" width="32.4" height="33" fill="none" stroke="#15ad7f" stroke-width="1.9"/><rect x="3331.4" y="2049.9" width="34" height="53.7" fill="#e84855"/><rect x="3374.1" y="2076.3" width="34" height="27.3" fill="#e84855"/><rect x="3417.7" y="2073.6" width="32.4" height="29.2" fill="none" stroke="#15ad7f" stroke-width="1.9"/><rect x="3460.5" y="2081.8" width="32.4" height="21" fill="none" stroke="#15ad7f" stroke-width="1.9"/><rect x="3503.2" y="2075.6" width="32.4" height="27.2" fill="none" stroke="#15ad7f" stroke-width="1.9"/><rect x="3546" y="2069.8" width="32.4" height="33" fill="none" stroke="#15ad7f" stroke-width="1.9"/><rect x="3588" y="2078.3" width="34" height="25.3" fill="#e84855"/><rect x="3631.5" y="2057.7" width="32.4" height="45.1" fill="none" stroke="#15ad7f" stroke-width="1.9"/><rect x="3674.3" y="2049.6" width="32.4" height="53.2" fill="none" stroke="#15ad7f" stroke-width="1.9"/><rect x="3716.3" y="2049.9" width="34" height="53.7" fill="#e84855"/><rect x="3759" y="2056.1" width="34" height="47.5" fill="#e84855"/><rect x="3802.6" y="2077.8" width="32.4" height="25" fill="none" stroke="#15ad7f" stroke-width="1.9"/><rect x="3844.5" y="2072.1" width="34" height="31.5" fill="#e84855"/><rect x="3887.3" y="2065" width="34" height="38.6" fill="#e84855"/><rect x="3930.1" y="2068.4" width="34" height="35.2" fill="#e84855"/><rect x="3972.8" y="2082.2" width="34" height="21.4" fill="#e84855"/><rect x="4016.4" y="2071.3" width="32.4" height="31.5" fill="none" stroke="#15ad7f" stroke-width="1.9"/><rect x="4058.4" y="2082.2" width="34" height="21.4" fill="#e84855"/><rect x="4101.9" y="2081.4" width="32.4" height="21.4" fill="none" stroke="#15ad7f" stroke-width="1.9"/><rect x="4144.7" y="2080.3" width="32.4" height="22.5" fill="none" stroke="#15ad7f" stroke-width="1.9"/><rect x="4186.7" y="2084.3" width="34" height="19.3" fill="#e84855"/><rect x="4230.2" y="2085.6" width="32.4" height="17.2" fill="none" stroke="#15ad7f" stroke-width="1.9"/><rect x="4272.2" y="2083.7" width="34" height="19.9" fill="#e84855"/><rect x="4315" y="2083.7" width="34" height="19.9" fill="#e84855"/><rect x="4357.7" y="2081.6" width="34" height="22" fill="#e84855"/><rect x="4400.5" y="2094.3" width="34" height="9.3" fill="#e84855"/><path d="M4401 2094V2085.3H4433.5V2094" fill="none" stroke="#2b2f45" stroke-width="1.6" stroke-dasharray="4 4"/><path d="M4.7 2008.9L12.7 2007L55.5 2003.1L98.3 1987.2L141 1977.5L183.8 1973.4L226.6 1965.4L269.3 1965.2L312.1 1960L354.9 1933.9L397.6 1912.7L440.4 1893.1L483.2 1861.6L525.9 1858L568.7 1868.3L611.4 1885.7L654.2 1891.4L697 1903.8L739.7 1869.6L782.5 1870.4L825.3 1867.6L868 1877.5L910.8 1894.2L953.6 1932.3L996.3 1943.4L1039.1 1954.8L1081.9 1965.2L1124.6 1950.1L1167.4 1937L1210.2 1919.4L1252.9 1899.3L1295.7 1880L1338.4 1872L1381.2 1869.1L1424 1874L1466.7 1856.9L1509.5 1817.4L1552.3 1840.9L1595 1879L1637.8 1910L1680.6 1961.8L1723.3 2035.2L1766.1 2057.3L1808.9 2060.5L1851.6 2059.5L1894.4 2062.5L1937.1 2066.7L1979.9 2070.9L2022.7 2071.3L2065.4 2073.1L2108.2 2069.6L2151 2068.8L2193.7 2068.8L2236.5 2070.6L2279.3 2072.3L2322 2077.3L2364.8 2079.6L2407.6 2080.9L2450.3 2079.9L2493.1 2079.8L2535.9 2077.8L2578.6 2078.2L2621.4 2077.5L2664.1 2080.1L2706.9 2080.3L2749.7 2081.1L2792.4 2081.1L2835.2 2079.4L2878 2075.4L2920.7 2074.1L2963.5 2073.5L3006.3 2071.6L3049 2072.8L3091.8 2076.5L3134.6 2074.6L3177.3 2073.6L3220.1 2073.6L3262.8 2073.5L3305.6 2071.4L3348.4 2068L3391.1 2069.3L3433.9 2068.9L3476.7 2069.8L3519.4 2071L3562.2 2074.8L3605 2075.2L3647.7 2072L3690.5 2065.6L3733.3 2060.6L3776 2058L3818.8 2057.7L3861.5 2060.8L3904.3 2064L3947.1 2067.7L3989.8 2072.9L4032.6 2071.6L4075.4 2073.7L4118.1 2076.8L4160.9 2079L4203.7 2079.4L4246.4 2082.3L4289.2 2082.6L4332 2083.2L4374.7 2083.6L4417.5 2085.6" fill="none" stroke="#3ecbab" stroke-width="2.2" stroke-linejoin="round"/><path d="M4.7 2026L12.7 2024L55.5 2021.3L98.3 2011.6L141 2004.6L183.8 1994.1L226.6 1987.2L269.3 1983.3L312.1 1972.8L354.9 1955.3L397.6 1943L440.4 1929.2L483.2 1913.4L525.9 1909L568.7 1901.1L611.4 1899.2L654.2 1892.3L697 1882.7L739.7 1863.8L782.5 1869.3L825.3 1876.6L868 1884.5L910.8 1899L953.6 1901L996.3 1906.9L1039.1 1911.2L1081.9 1921.4L1124.6 1922.2L1167.4 1934.7L1210.2 1931.4L1252.9 1927.1L1295.7 1922.6L1338.4 1911.1L1381.2 1903L1424 1896.7L1466.7 1878.1L1509.5 1848.7L1552.3 1856.5L1595 1874L1637.8 1892L1680.6 1909.3L1723.3 1926.3L1766.1 1949.1L1808.9 1969.7L1851.6 1984.8L1894.4 2012.2L1937.1 2051L1979.9 2064.1L2022.7 2065.9L2065.4 2066.3L2108.2 2066.1L2151 2067.8L2193.7 2069.9L2236.5 2070.9L2279.3 2072.7L2322 2073.5L2364.8 2074.2L2407.6 2074.9L2450.3 2075.2L2493.1 2076.1L2535.9 2077.6L2578.6 2078.9L2621.4 2079.2L2664.1 2080L2706.9 2080.1L2749.7 2079.5L2792.4 2079.7L2835.2 2078.5L2878 2077.7L2920.7 2077.2L2963.5 2077.3L3006.3 2076.4L3049 2076.1L3091.8 2075.9L3134.6 2074.4L3177.3 2073.5L3220.1 2072.6L3262.8 2073.2L3305.6 2074L3348.4 2071.3L3391.1 2071.4L3433.9 2071.2L3476.7 2071.6L3519.4 2071.2L3562.2 2071.4L3605 2072.2L3647.7 2070.4L3690.5 2067.7L3733.3 2065.8L3776 2066.4L3818.8 2066.5L3861.5 2066.4L3904.3 2064.8L3947.1 2064.2L3989.8 2065.5L4032.6 2064.7L4075.4 2067.2L4118.1 2070.4L4160.9 2073.4L4203.7 2076.2L4246.4 2077L4289.2 2078.1L4332 2080L4374.7 2081.3L4417.5 2082.5" fill="none" stroke="#f6aa1c" stroke-width="2.2" stroke-linejoin="round"/></g><rect x="4734" y="548.2" width="140" height="39.6" fill="#d8390f"/><rect x="4734" y="567.8" width="12" height="2.4" fill="#fff"/><text x="4754" y="578" font-size="23.3" fill="#fff" letter-spacing="0.358" stroke="#fff" stroke-width="0.35">60153.39</text><rect x="4733.8" y="2074.3" width="138.4" height="37.6" fill="#f7b048"/><rect x="4734" y="2093.5" width="12" height="2.4" fill="#fff"/><text x="4775.5" y="2103.4" font-size="23.6" fill="#fff" stroke="#fff" stroke-width="0.35">76.7k</text><line x1="1107.9" y1="1287.8" x2="2680.6" y2="1120.9" stroke="#12d67c" stroke-width="8" stroke-linecap="round"/><line x1="2714.0" y1="1120.2" x2="3267.0" y2="840.7" stroke="#12d67c" stroke-width="8" stroke-linecap="round"/><line x1="3307.9" y1="860.9" x2="3815.9" y2="368.9" stroke="#12d67c" stroke-width="8" stroke-linecap="round"/><line x1="3859.0" y1="368.8" x2="4377.9" y2="530.6" stroke="#12d67c" stroke-width="8" stroke-linecap="round"/><g fill="#000" stroke="#000" stroke-linejoin="round"><text transform="translate(1690.8,1023.1) scale(0.88,1)" font-size="62.6" stroke-width="1.2">(</text><text transform="translate(1712,1030.1) scale(1.05,1)" font-size="63.6" stroke-width="1.4">1</text><text transform="translate(1746.7,1023.1) scale(0.88,1)" font-size="62.6" stroke-width="1.2">)</text></g><g fill="#000" stroke="#000" stroke-linejoin="round"><text transform="translate(2909.8,906) scale(0.88,1)" font-size="62.6" stroke-width="1.2">(</text><text transform="translate(2934.6,912) scale(1.05,1)" font-size="63.6" stroke-width="1.4">2</text><text transform="translate(2977.8,906) scale(0.88,1)" font-size="62.6" stroke-width="1.2">)</text></g><g fill="#000" stroke="#000" stroke-linejoin="round"><text transform="translate(3427.7,572.1) scale(0.88,1)" font-size="62.6" stroke-width="1.2">(</text><text transform="translate(3452.9,578.5) scale(1.05,1)" font-size="63.6" stroke-width="1.4">3</text><text transform="translate(3495.9,572.1) scale(0.88,1)" font-size="62.6" stroke-width="1.2">)</text></g><g fill="#000" stroke="#000" stroke-linejoin="round"><text transform="translate(4164,336) scale(0.88,1)" font-size="62.6" stroke-width="1.2">(</text><text transform="translate(4188.6,342.2) scale(1.05,1)" font-size="63.6" stroke-width="1.4">4</text><text transform="translate(4231.8,336) scale(0.88,1)" font-size="62.6" stroke-width="1.2">)</text></g><text x="855.6" y="1325" font-size="23.4" fill="#0f1a33" letter-spacing="0.271">15476.00</text><path d="M848.9 1318.9H835.2M840.5 1314L835.2 1318.9L840.5 1323.8" stroke="#0f1a33" stroke-width="1.9" fill="none"/><text x="3602.8" y="345.9" font-size="23.4" fill="#0f1a33" letter-spacing="0.374">73777.00</text><path d="M3712.9 338.9H3726.8M3721.5 334L3726.8 338.9L3721.5 343.8" stroke="#0f1a33" stroke-width="1.9" fill="none"/><circle cx="40.1" cy="31.85" r="14.1" fill="none" stroke="#8a929f" stroke-width="1.6"/><path d="M32.300000000000004 28.150000000000002L40.1 36.25L47.9 28.150000000000002" fill="none" stroke="#8a929f" stroke-width="1.7"/><circle cx="40.1" cy="67.85" r="14.1" fill="none" stroke="#8a929f" stroke-width="1.6"/><path d="M32.300000000000004 64.14999999999999L40.1 72.25L47.9 64.14999999999999" fill="none" stroke="#8a929f" stroke-width="1.7"/><text x="67.1" y="39.9" font-size="23.6" fill="#8a929f" letter-spacing="0.438">2024-07-01 08:00</text><text x="273.5" y="39.9" font-size="23.6" fill="#8a929f">开</text><text x="303.9" y="39.9" font-size="23.6" fill="#e0404f" letter-spacing="0.003">62772.01</text><text x="418.5" y="39.9" font-size="23.6" fill="#8a929f">高</text><text x="447.2" y="39.9" font-size="23.6" fill="#e0404f" letter-spacing="0.457">63861.76</text><text x="561.3" y="39.9" font-size="23.6" fill="#8a929f">低</text><text x="592.2" y="39.9" font-size="23.6" fill="#e0404f" letter-spacing="0.305">59400.00</text><text x="706.3" y="39.9" font-size="23.6" fill="#8a929f">收</text><text x="735.8" y="39.9" font-size="23.6" fill="#e0404f" letter-spacing="0.369">60153.39</text><text x="849" y="39.9" font-size="23.6" fill="#8a929f">涨幅</text><text x="904.6" y="39.9" font-size="23.6" fill="#e0404f" letter-spacing="0.403">-4.17%(-2618.62)</text><text x="1106.2" y="39.9" font-size="23.6" fill="#8a929f">振幅</text><text x="1160.7" y="39.9" font-size="23.6" fill="#e0404f" letter-spacing="0.759">7.11%</text><g fill="none" stroke="#8a929f" stroke-width="1.7" stroke-linecap="round"><path d="M67.4 71.1H92.4M71.3 71.1V64A8.6 8.6 0 0 1 88.5 64V71.1M75.3 72.8A4.5 4.2 0 0 0 83.7 72.8"/></g><text x="95.7" y="75.9" font-size="23.6" fill="#8a929f" letter-spacing="0.071">EMA</text><text x="166.5" y="75.9" font-size="23.6" fill="#d9d9d9" letter-spacing="-0.032">EMA(7):63896.74</text><text x="362.8" y="75.9" font-size="23.6" fill="#333333" letter-spacing="-0.012">EMA(14):63528.82</text><text x="573.9" y="75.9" font-size="23.6" fill="#d840c8" letter-spacing="-0.025">EMA(30):57896.35</text><text x="784.1" y="75.9" font-size="23.6" fill="#3fb6dc" letter-spacing="-0.003">EMA(60):48980.79</text><text x="994.2" y="75.9" font-size="23.6" fill="#cfa40f" letter-spacing="0.016">EMA(200):34319.73</text><text x="36.7" y="1674.3" font-size="23.6" fill="#8a929f" letter-spacing="-0.090">VOLUME</text><path d="M152.6 1662H168.6L160.6 1670.3Z" fill="#8a929f"/><text x="188.7" y="1674.3" font-size="23.6" fill="#8a929f" letter-spacing="0.078">VOLUME:76,652.5134</text><text x="440.8" y="1674.3" font-size="23.6" fill="#4a4e57">预估成交量</text><text x="561.3" y="1674.3" font-size="23.6" fill="#4a4e57" letter-spacing="0.065">:175,540.1071</text><text x="727.1" y="1674.3" font-size="23.6" fill="#2fc9a6" letter-spacing="0.082">MA(5):149,841.3430</text><text x="956.9" y="1674.3" font-size="23.6" fill="#f6a821" letter-spacing="-0.032">MA(10):180,159.9627</text><text x="122.7" y="2143.5" font-size="23.6" fill="#8a929f" letter-spacing="0.000">8</text><text x="135.2" y="2143.5" font-size="23.6" fill="#8a929f">月</text><text x="336.5" y="2143.5" font-size="23.6" fill="#8a929f" letter-spacing="0.000">9</text><text x="349" y="2143.5" font-size="23.6" fill="#8a929f">月</text><text x="500.6" y="2143.5" font-size="23.6" fill="#8a929f" letter-spacing="-0.000">10</text><text x="526.3" y="2143.5" font-size="23.6" fill="#8a929f">月</text><text x="714.5" y="2143.5" font-size="23.6" fill="#8a929f" letter-spacing="-0.000">11</text><text x="740" y="2143.5" font-size="23.6" fill="#8a929f">月</text><text x="885.6" y="2143.5" font-size="23.6" fill="#8a929f" letter-spacing="-0.000">12</text><text x="911.1" y="2143.5" font-size="23.6" fill="#8a929f">月</text><text x="1055.2" y="2143.5" font-size="23.6" fill="#8a929f" letter-spacing="0.523" font-weight="700">2023</text><text x="1277.3" y="2143.5" font-size="23.6" fill="#8a929f" letter-spacing="0.000">2</text><text x="1289.7" y="2143.5" font-size="23.6" fill="#8a929f">月</text><text x="1448.4" y="2143.5" font-size="23.6" fill="#8a929f" letter-spacing="0.000">3</text><text x="1461" y="2143.5" font-size="23.6" fill="#8a929f">月</text><text x="1619.5" y="2143.5" font-size="23.6" fill="#8a929f" letter-spacing="0.000">4</text><text x="1632.4" y="2143.5" font-size="23.6" fill="#8a929f">月</text><text x="1790.5" y="2143.5" font-size="23.6" fill="#8a929f" letter-spacing="0.000">5</text><text x="1803.1" y="2143.5" font-size="23.6" fill="#8a929f">月</text><text x="2004.2" y="2143.5" font-size="23.6" fill="#8a929f" letter-spacing="0.000">6</text><text x="2016.8" y="2143.5" font-size="23.6" fill="#8a929f">月</text><text x="2175.4" y="2143.5" font-size="23.6" fill="#8a929f" letter-spacing="0.000">7</text><text x="2187.7" y="2143.5" font-size="23.6" fill="#8a929f">月</text><text x="2389.2" y="2143.5" font-size="23.6" fill="#8a929f" letter-spacing="0.000">8</text><text x="2401.7" y="2143.5" font-size="23.6" fill="#8a929f">月</text><text x="2560.3" y="2143.5" font-size="23.6" fill="#8a929f" letter-spacing="0.000">9</text><text x="2572.7" y="2143.5" font-size="23.6" fill="#8a929f">月</text><text x="2724.3" y="2143.5" font-size="23.6" fill="#8a929f" letter-spacing="0.000">10</text><text x="2750.1" y="2143.5" font-size="23.6" fill="#8a929f">月</text><text x="2938.2" y="2143.5" font-size="23.6" fill="#8a929f" letter-spacing="0.000">11</text><text x="2963.8" y="2143.5" font-size="23.6" fill="#8a929f">月</text><text x="3109.3" y="2143.5" font-size="23.6" fill="#8a929f" letter-spacing="0.000">12</text><text x="3134.8" y="2143.5" font-size="23.6" fill="#8a929f">月</text><text x="3279" y="2143.5" font-size="23.6" fill="#8a929f" letter-spacing="0.281" font-weight="700">2024</text><text x="3501.1" y="2143.5" font-size="23.6" fill="#8a929f" letter-spacing="0.000">2</text><text x="3513.5" y="2143.5" font-size="23.6" fill="#8a929f">月</text><text x="3672.2" y="2143.5" font-size="23.6" fill="#8a929f" letter-spacing="0.000">3</text><text x="3684.7" y="2143.5" font-size="23.6" fill="#8a929f">月</text><text x="3843.3" y="2143.5" font-size="23.6" fill="#8a929f" letter-spacing="0.000">4</text><text x="3856.1" y="2143.5" font-size="23.6" fill="#8a929f">月</text><text x="4057" y="2143.5" font-size="23.6" fill="#8a929f" letter-spacing="0.000">5</text><text x="4069.6" y="2143.5" font-size="23.6" fill="#8a929f">月</text><text x="4228" y="2143.5" font-size="23.6" fill="#8a929f" letter-spacing="0.000">6</text><text x="4240.5" y="2143.5" font-size="23.6" fill="#8a929f">月</text><text x="4399.1" y="2143.5" font-size="23.6" fill="#8a929f" letter-spacing="0.000">7</text><text x="4411.5" y="2143.5" font-size="23.6" fill="#8a929f">月</text><text x="4612.9" y="2143.5" font-size="23.6" fill="#8a929f" letter-spacing="0.000">8</text><text x="4625.5" y="2143.5" font-size="23.6" fill="#8a929f">月</text><text x="4798" y="2143.5" font-size="23.6" fill="#8a929f">筹</text><text x="4841" y="2143.5" font-size="23.6" fill="#8a929f">爆</text></svg></body></html>
